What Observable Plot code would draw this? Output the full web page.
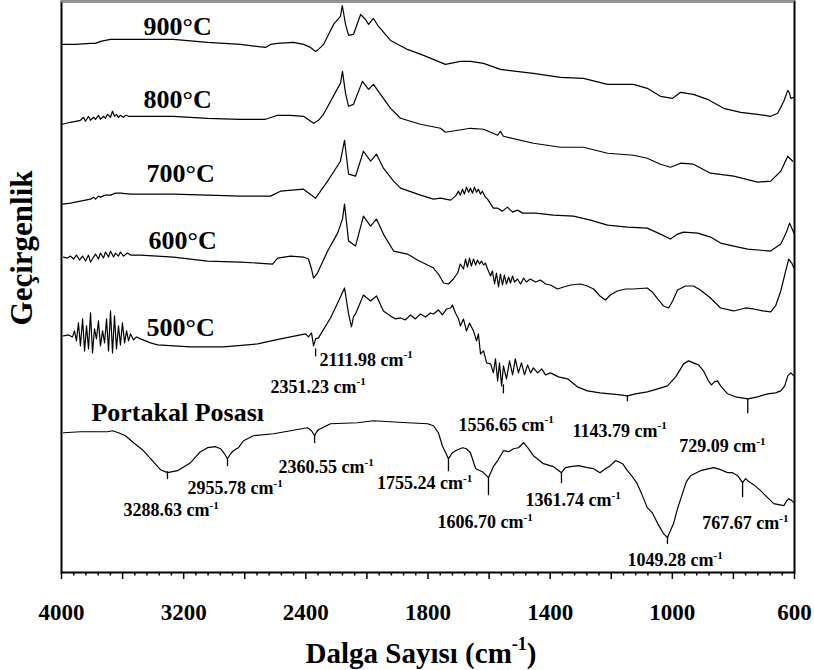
<!DOCTYPE html>
<html>
<head>
<meta charset="utf-8">
<script src="https://cdn.jsdelivr.net/npm/d3@7"></script>
<script src="https://cdn.jsdelivr.net/npm/@observablehq/plot@0.6"></script>
<style>
  html, body { margin: 0; padding: 0; background: #fff; }
</style>
</head>
<body>
<div id="chart"></div>
<script>
// ---------- DATA (wavenumber in cm-1, transmittance in arbitrary stacked units) ----------
const wn900 = [3995,3908,3810,3777,3745,3712,3679,3659,3483,3267,3044,2828,2664,2631,2585,2481,2415,2377,2352,2338,2313,2264,2230,2221,2205,2190,2166,2131,2107,2092,2068,2043,1984,1901,1822,1759,1743,1694,1661,1618,1563,1455,1366,1291,1212,1127,1082,1039,999,973,931,885,832,776,721,678,655,635,622,616,612,602];
const t900 = [537,537,538,538,540,541,542,542,542,542,539,537,534,537,538,539,537,534,530,532,537,557,565,576,557,546,547,567,562,557,563,555,541,532,526,519,517,520,520,518,512,508,504,503,497,497,493,485,483,489,487,482,473,469,467,465,468,480,491,488,483,484];

const wn800 = [3995,3941,3908,3876,3856,3843,3823,3810,3790,3777,3758,3745,3725,3712,3699,3679,3666,3653,3640,3627,3614,3594,3581,3561,3483,3267,3044,2828,2664,2585,2500,2415,2362,2338,2313,2244,2230,2220,2205,2190,2166,2122,2092,2068,2033,1984,1935,1837,1759,1743,1661,1618,1572,1563,1553,1455,1366,1291,1212,1127,1082,1039,1006,973,931,875,799,721,678,645,622,606];
const t800 = [457,459,460,461,464,460,465,461,464,462,466,462,465,463,467,464,470,465,467,464,466,464,466,465,465,465,463,462,462,466,466,465,458,461,467,493,498,510,488,475,477,500,492,497,487,473,463,457,453,449,453,452,446,450,445,438,434,434,428,426,423,417,414,418,417,408,405,399,400,410,425,420];

const wn700 = [3993,3941,3876,3843,3810,3790,3777,3758,3745,3712,3679,3646,3614,3548,3483,3267,3044,2828,2631,2566,2415,2352,2293,2230,2210,2190,2156,2117,2082,2053,2019,1969,1935,1837,1782,1759,1726,1710,1700,1694,1687,1681,1674,1667,1661,1654,1648,1641,1635,1628,1622,1612,1605,1586,1572,1556,1540,1523,1507,1490,1448,1389,1324,1268,1212,1147,1082,1039,1006,983,963,917,875,842,799,753,678,645,629,616,602];
const t700 = [377,378,380,381,382,384,382,385,384,386,386,388,388,387,387,387,386,385,385,390,392,383,400,420,441,407,405,430,420,427,413,400,393,386,382,383,381,385,390,386,392,387,394,389,393,388,394,389,392,387,390,384,382,373,373,370,374,369,371,368,368,366,365,361,356,354,353,347,342,347,349,348,344,338,335,332,330,337,347,358,348];

const wn600 = [3987,3961,3941,3921,3902,3882,3862,3843,3823,3810,3790,3777,3758,3745,3725,3712,3692,3679,3659,3646,3627,3614,3594,3568,3548,3483,3267,3044,2828,2618,2585,2500,2415,2387,2372,2362,2343,2293,2244,2220,2210,2190,2156,2117,2082,2053,2019,1969,1901,1852,1822,1782,1766,1749,1733,1717,1703,1694,1684,1677,1671,1664,1658,1651,1644,1638,1631,1625,1618,1612,1605,1595,1589,1582,1576,1569,1563,1556,1550,1543,1536,1530,1523,1517,1507,1497,1487,1478,1465,1448,1432,1415,1399,1376,1356,1333,1301,1278,1258,1237,1219,1203,1180,1153,1127,1082,1066,1048,1029,1012,999,983,957,931,908,875,842,799,760,734,704,678,662,645,629,619,609,602];
const t600 = [324,323,325,322,326,321,325,320,326,319,324,327,322,328,323,329,324,330,324,328,325,329,325,328,326,326,324,320,319,317,323,325,324,322,312,303,308,330,348,362,377,340,335,365,355,362,347,330,327,321,318,313,307,298,297,302,308,317,312,322,314,323,315,322,316,321,317,320,316,318,312,305,310,297,308,294,307,296,306,297,304,298,305,299,302,297,303,299,302,299,301,297,296,292,294,296,297,295,292,285,281,286,290,292,292,293,289,282,275,273,280,291,295,295,291,283,273,270,273,272,270,269,275,290,310,322,318,313];

const wn500 = [3987,3954,3928,3915,3902,3889,3876,3862,3849,3836,3823,3810,3797,3784,3771,3758,3745,3731,3718,3705,3692,3679,3666,3653,3640,3627,3614,3601,3587,3574,3561,3548,3528,3509,3483,3417,3371,3155,2939,2716,2566,2500,2435,2402,2387,2372,2362,2352,2338,2279,2239,2210,2190,2176,2166,2156,2117,2082,2053,2019,1984,1960,1935,1911,1886,1862,1837,1812,1792,1782,1766,1753,1739,1726,1720,1710,1700,1694,1684,1674,1664,1651,1641,1635,1628,1618,1608,1595,1586,1579,1572,1566,1559,1553,1543,1533,1523,1514,1504,1494,1484,1474,1464,1455,1441,1428,1415,1399,1373,1343,1311,1278,1237,1203,1170,1147,1121,1082,1048,1016,989,963,947,931,914,898,882,872,862,852,842,819,793,753,721,688,662,645,632,622,612,602];
const t500 = [245,246,244,250,240,258,235,262,230,255,232,268,228,252,242,260,235,250,238,262,230,270,228,265,232,255,236,258,238,250,240,247,241,244,242,238,236,234,234,237,242,244,246,247,244,248,235,242,243,263,280,293,267,254,264,267,286,280,285,270,265,262,263,261,266,262,267,264,268,267,271,266,272,273,276,268,262,255,262,250,258,250,240,247,227,230,218,217,208,222,200,218,195,215,202,220,206,222,208,218,206,216,208,213,208,212,206,208,204,202,194,190,188,187,186,185,187,189,192,195,204,217,220,218,216,210,200,196,199,200,195,187,184,182,184,187,188,190,195,205,208,205];

const wnPulp = [3987,3876,3777,3699,3666,3627,3581,3528,3470,3417,3352,3306,3240,3155,3090,3044,2991,2959,2933,2913,2893,2874,2854,2841,2808,2743,2612,2500,2392,2372,2357,2347,2338,2279,2146,2068,1901,1802,1782,1766,1753,1733,1720,1710,1687,1674,1661,1644,1622,1602,1586,1572,1553,1536,1520,1504,1487,1471,1455,1422,1389,1363,1350,1333,1307,1278,1258,1237,1219,1203,1186,1176,1163,1147,1131,1115,1098,1082,1066,1048,1029,1016,1006,996,983,967,954,940,908,865,842,819,803,786,770,760,753,734,711,688,668,652,635,625,619,609,602];
const tPulp = [148,149,149,149,150,148,145,138,131,122,111,108,110,118,129,133,134,132,127,122,127,130,132,133,140,145,147,150,153,150,145,149,151,157,158,160,158,157,155,148,135,122,128,130,133,132,128,112,109,103,114,120,130,129,132,133,138,132,125,117,114,108,113,114,115,113,112,108,112,115,120,119,117,110,104,97,85,73,68,57,47,43,50,57,72,87,99,105,110,113,111,108,108,105,98,102,100,96,90,83,77,76,75,80,82,80,78];

// series names / curve labels
const seriesNames = ["900°C", "800°C", "700°C", "600°C", "500°C", "Portakal Posası"];
const labelWn = [3463, 3463, 3443, 3430, 3443, 3804];
const labelT = [555, 482, 408, 340, 253, 168];

// peak marker ticks: wavenumber, top and bottom of the marker
const peakWn = [3306, 2913, 2357, 1733, 1602, 1363, 1016, 770, 2352, 1553, 1147, 753];
const peakTop = [109, 122, 145, 122, 103, 108, 43, 98, 232, 196, 185, 182];
const peakBottom = [101, 114, 137, 109, 85, 97, 36, 83, 224, 187, 179, 167];

// peak annotations
const annText = ["2111.98 cm-1", "2351.23 cm-1", "3288.63 cm-1", "2955.78 cm-1", "2360.55 cm-1", "1755.24 cm-1", "1606.70 cm-1", "1361.74 cm-1", "1049.28 cm-1", "767.67 cm-1", "1556.65 cm-1", "1143.79 cm-1", "729.09 cm-1"];
const annWn = [2333, 2631, 3594, 3175, 2579, 2050, 1769, 1481, 1147, 902, 1700, 1327, 977];
const annT = [221, 194, 70, 92, 113, 97, 58, 80, 20, 57, 156, 150, 134];

// axis
const xDomain = [4000, 2400, 1800, 600];          // piecewise (broken) wavenumber axis
const xBreakFractions = [0, 4 / 12, 6 / 12, 1];
const majorTicks = [4000, 3600, 3200, 2800, 2400, 2100, 1800, 1600, 1400, 1200, 1000, 800, 600];
const labeledTicks = [4000, 3200, 2400, 1800, 1400, 1000, 600];
const yDomain = [8, 580];
const xTitle = "Dalga Sayısı (cm-1)";
const yTitle = "Geçirgenlik";

// ---------- BUILD ----------
const W = 814, H = 670, mL = 61, mR = 20, mT = 1, mB = 98;
const xRange = xBreakFractions.map(f => mL + (W - mR - mL) * f);
const minorTicks = d3.pairs(majorTicks).flatMap(([a, b]) => d3.range(1, 5).map(i => a + (b - a) * i / 5));

const seriesWn = [wn900, wn800, wn700, wn600, wn500, wnPulp];
const seriesT = [t900, t800, t700, t600, t500, tPulp];
const lineData = seriesNames.flatMap((name, k) => seriesWn[k].map((w, i) => ({series: name, wn: w, t: seriesT[k][i]})));
const labelData = seriesNames.map((name, k) => ({label: name, wn: labelWn[k], t: labelT[k]}));
const peakData = peakWn.map((w, i) => ({wn: w, t1: peakTop[i], t2: peakBottom[i]}));
const annData = annText.map((s, i) => ({label: s, wn: annWn[i], t: annT[i]}));

const FONT = "'Liberation Serif', 'Times New Roman', Times, serif";

const chart = Plot.plot({
  width: W, height: H,
  marginLeft: mL, marginRight: mR, marginTop: mT, marginBottom: mB,
  style: {fontFamily: FONT, color: "black", background: "white"},
  x: {type: "linear", domain: xDomain, range: xRange, label: null},
  y: {type: "linear", domain: yDomain, axis: null, label: null},
  marks: [
    Plot.line(lineData, {x: "wn", y: "t", z: "series", stroke: "black", strokeWidth: 1.2}),
    Plot.ruleX(peakData, {x: "wn", y1: "t1", y2: "t2", stroke: "black", strokeWidth: 1.3}),
    Plot.frame({stroke: "black", strokeWidth: 2}),
    Plot.ruleY([yDomain[1]], {stroke: "#9a9a9a", strokeWidth: 2}),
    Plot.axisX(minorTicks, {tickSize: 3.5, strokeWidth: 1.5, tickFormat: () => "", label: null}),
    Plot.axisX(majorTicks, {tickSize: 7, strokeWidth: 1.5, tickPadding: 24, label: null,
      tickFormat: d => labeledTicks.includes(d) ? String(d) : "",
      fontSize: 23, fontWeight: "bold", fontFamily: FONT}),
    Plot.text(labelData, {x: "wn", y: "t", text: "label", textAnchor: "start",
      fontSize: 26, fontWeight: "bold", fontFamily: FONT}),
    Plot.text(annData, {x: "wn", y: "t", text: "label", textAnchor: "start",
      fontSize: 18, fontWeight: "bold", fontFamily: FONT}),
    Plot.text([yTitle], {text: d => d, frameAnchor: "left", textAnchor: "middle", rotate: -90, dx: -39, dy: -39,
      fontSize: 31, fontWeight: "bold", fontFamily: FONT}),
    Plot.text([xTitle], {text: d => d, frameAnchor: "bottom", textAnchor: "middle", dx: -7, dy: 90,
      fontSize: 29, fontWeight: "bold", fontFamily: FONT})
  ]
});

// superscript the "-1" of every "cm-1"
const NS = "http://www.w3.org/2000/svg";
chart.querySelectorAll("text").forEach(t => {
  const s = t.textContent;
  const i = s.indexOf("cm-1");
  if (i < 0) return;
  const holder = t.closest("[font-size]");
  const fs = holder ? parseFloat(holder.getAttribute("font-size")) : 18;
  const pre = s.slice(0, i + 2), post = s.slice(i + 4);
  t.textContent = "";
  t.appendChild(document.createTextNode(pre));
  const sup = document.createElementNS(NS, "tspan");
  sup.setAttribute("dy", String(-0.42 * fs));
  sup.setAttribute("font-size", String(0.62 * fs));
  sup.textContent = "-1";
  t.appendChild(sup);
  if (post) {
    const p = document.createElementNS(NS, "tspan");
    p.setAttribute("dy", String(0.42 * fs));
    p.textContent = post;
    t.appendChild(p);
  }
});

document.getElementById("chart").appendChild(chart);
</script>
</body>
</html>
